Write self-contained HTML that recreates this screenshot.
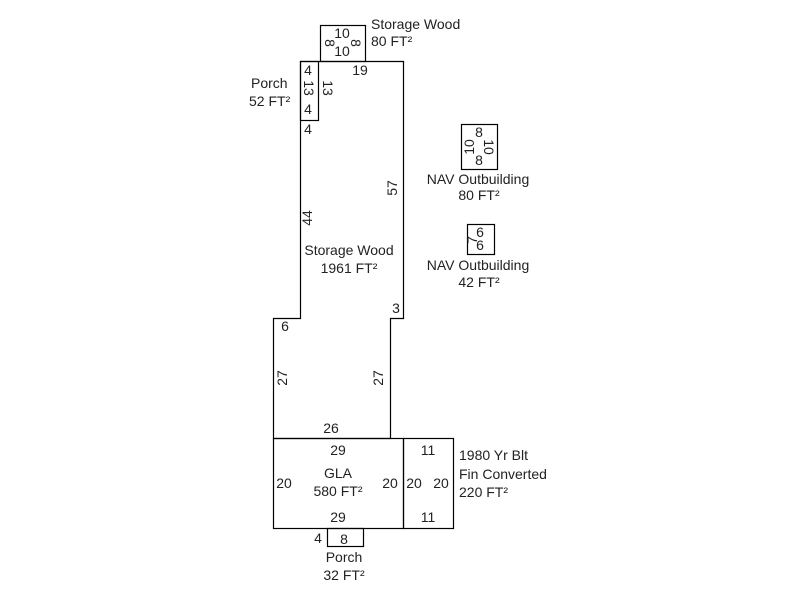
<!DOCTYPE html>
<html><head><style>body{margin:0;background:#fff}svg{display:block}text{font-family:"Liberation Sans",Arial,sans-serif;font-size:14px;fill:#222}</style></head><body>
<svg width="800" height="600" viewBox="0 0 800 600">
<g fill="none" stroke="#000" stroke-width="1.2">
<rect x="320.5" y="25.5" width="45" height="36"/>
<path d="M300.5 61.5 H403.5 V318.5 H390.5 V438.5 H273.5 V318.5 H300.5 Z"/>
<rect x="300.5" y="61.5" width="18" height="59"/>
<rect x="273.5" y="438.5" width="130" height="90"/>
<rect x="403.5" y="438.5" width="50" height="90"/>
<rect x="327.5" y="528.5" width="36" height="18"/>
<rect x="461.5" y="124.5" width="36" height="45"/>
<rect x="467.5" y="224.5" width="27" height="30"/>
</g>
<g text-anchor="middle">
<text x="342" y="38">10</text><text x="342" y="56" font-size="12">10</text>
<text x="329" y="47" transform="rotate(90 329 43)" font-size="12">8</text>
<text x="355" y="47" transform="rotate(90 355 43)" font-size="12">8</text>
<text x="360" y="75">19</text>
<text x="308" y="75">4</text><text x="308" y="114" font-size="12">4</text>
<text x="308" y="92" transform="rotate(90 308 88)">13</text>
<text x="327" y="92" transform="rotate(90 327 88)">13</text>
<text x="308" y="134">4</text>
<text x="393" y="192" transform="rotate(-90 393 188)">57</text>
<text x="308" y="222" transform="rotate(-90 308 218)">44</text>
<text x="349" y="255">Storage Wood</text><text x="349" y="273">1961 FT²</text>
<text x="396" y="313">3</text>
<text x="285" y="331">6</text>
<text x="283" y="382" transform="rotate(-90 283 378)">27</text>
<text x="379" y="382" transform="rotate(-90 379 378)">27</text>
<text x="331" y="433">26</text>
<text x="338" y="455">29</text>
<text x="338" y="478">GLA</text><text x="338" y="496">580 FT²</text>
<text x="284" y="488">20</text><text x="390" y="488">20</text>
<text x="414" y="488">20</text><text x="441" y="488">20</text>
<text x="338" y="522">29</text>
<text x="428" y="455">11</text><text x="428" y="522">11</text>
<text x="318" y="543">4</text><text x="344" y="544">8</text>
<text x="344" y="562">Porch</text><text x="344" y="580">32 FT²</text>
<text x="479" y="137">8</text><text x="479" y="165">8</text>
<text x="470" y="151" transform="rotate(-90 470 147)">10</text>
<text x="488" y="151" transform="rotate(90 488 147)">10</text>
<text x="478" y="184">NAV Outbuilding</text><text x="479" y="200">80 FT²</text>
<text x="480" y="237">6</text><text x="480" y="250">6</text>
<text x="474" y="243" font-size="11" transform="rotate(-90 474 240)">7</text>
<text x="478" y="270">NAV Outbuilding</text><text x="479" y="287">42 FT²</text>
</g>
<text x="371" y="29">Storage Wood</text><text x="371" y="46">80 FT²</text>
<text x="251" y="88">Porch</text><text x="249" y="106">52 FT²</text>
<text x="459" y="460">1980 Yr Blt</text><text x="459" y="479">Fin Converted</text><text x="459" y="497">220 FT²</text>
</svg>
</body></html>
